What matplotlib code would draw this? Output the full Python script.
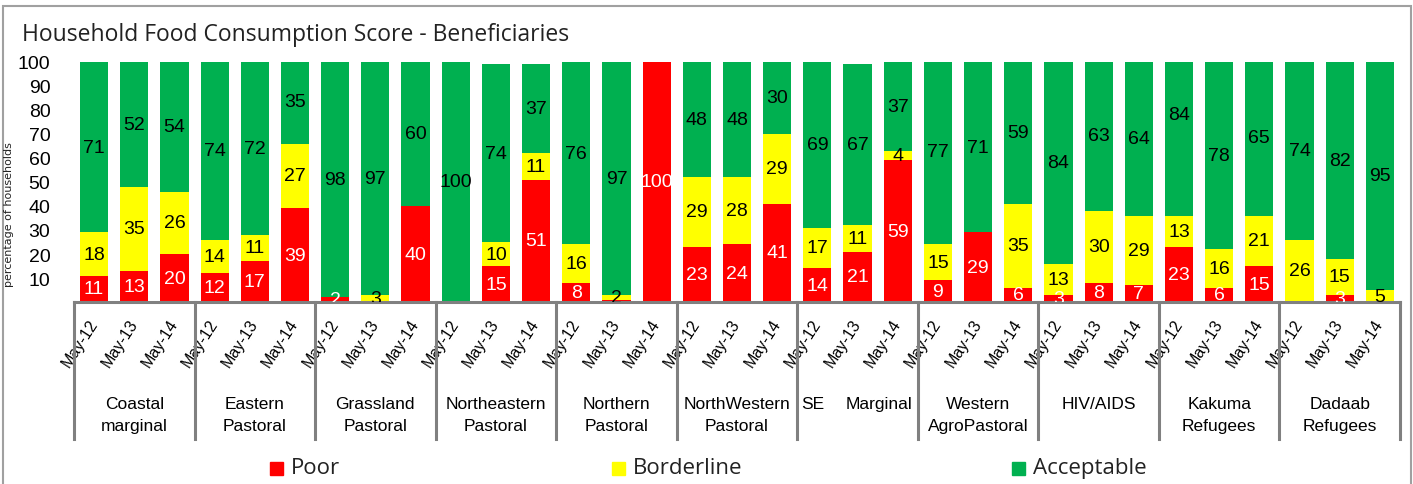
import matplotlib.pyplot as plt
from matplotlib.patches import Rectangle
import numpy as np

title = 'Household Food Consumption Score - Beneficiaries'
groups = ['Coastal\nmarginal', 'Eastern\nPastoral', 'Grassland\nPastoral', 'Northeastern\nPastoral',
          'Northern\nPastoral', 'NorthWestern\nPastoral', 'SE|Marginal', 'Western\nAgroPastoral',
          'HIV/AIDS', 'Kakuma\nRefugees', 'Dadaab\nRefugees']
years = ['May-12', 'May-13', 'May-14']

poor = [11, 13, 20, 12, 17, 39, 2, 0, 40, 0, 15, 51, 8, 1, 100, 23, 24, 41,
        14, 21, 59, 9, 29, 6, 3, 8, 7, 23, 6, 15, 0, 3, 0]
borderline = [18, 35, 26, 14, 11, 27, 0, 3, 0, 0, 10, 11, 16, 2, 0, 29, 28, 29,
              17, 11, 4, 15, 0, 35, 13, 30, 29, 13, 16, 21, 26, 15, 5]
acceptable = [71, 52, 54, 74, 72, 35, 98, 97, 60, 100, 74, 37, 76, 97, 0, 48, 48, 30,
              69, 67, 37, 77, 71, 59, 84, 63, 64, 84, 78, 65, 74, 82, 95]

series = [('Poor', poor, '#ff0000', 'white'),
          ('Borderline', borderline, '#ffff00', 'black'),
          ('Acceptable', acceptable, '#00b050', 'black')]

W, H = 1413, 485
fig = plt.figure(figsize=(W / 100, H / 100), dpi=100)
ax = fig.add_axes([74 / W, (H - 303) / H, (1400 - 74) / W, 240 / H])

x = np.arange(len(poor))
bottom = np.zeros(len(poor))
for name, vals, col, tcol in series:
    vals = np.array(vals, dtype=float)
    ax.bar(x, vals, 0.7, bottom=bottom, color=col, label=name)
    for xi, b, v in zip(x, bottom, vals):
        if v >= 2:
            ax.text(xi, b + v / 2, '%d' % v, ha='center', va='center', color=tcol,
                    fontsize=14, family='Liberation Sans', clip_on=True)
    bottom += vals

ax.set_xlim(-0.5, len(poor) - 0.5)
ax.set_ylim(0, 100)
ax.set_yticks(range(10, 101, 10))
ax.tick_params(axis='y', length=0, labelsize=14, pad=17)
for t in ax.get_yticklabels():
    t.set_family('Liberation Sans')
for s in ['top', 'right', 'left']:
    ax.spines[s].set_visible(False)
ax.spines['bottom'].set_color('#808080')
ax.spines['bottom'].set_linewidth(2.2)

# date tick labels
ax.set_xticks(x)
ax.set_xticklabels(years * len(groups), rotation=57, ha='right', va='center',
                   rotation_mode='anchor', family='Liberation Sans', fontsize=11.5)
ax.tick_params(axis='x', length=0, pad=13)

# group separators and names
tr = ax.get_xaxis_transform()
for i in range(len(groups) + 1):
    ax.plot([i * 3 - 0.5] * 2, [0, -0.57], color='#808080', lw=2.2, transform=tr, clip_on=False)
for i, g in enumerate(groups):
    if '|' in g:
        left, right = g.split('|')
        ax.text(i * 3 - 0.4, -0.39, left, ha='left', va='top', transform=tr, fontsize=12.5,
                family='Liberation Sans')
        ax.text(i * 3 + 2.37, -0.39, right, ha='right', va='top', transform=tr, fontsize=12.5,
                family='Liberation Sans')
        continue
    ax.text(i * 3 + 1, -0.39, g, ha='center', va='top', transform=tr, fontsize=12.5,
            family='Liberation Sans', linespacing=1.65)

# y label (squashed, like the original)
fig.text(9 / W, 1 - 215 / H, 'percentage of households', rotation=90, ha='center', va='center',
         fontsize=8, color='#222222')

fig.text(22 / W, 1 - 35 / H, title, ha='left', va='center', fontsize=16.5, family='Open Sans',
         color='#222222')

# legend
for (name, vals, col, tcol), mx in zip(series, [270, 612, 1012]):
    fig.patches.append(Rectangle((mx / W, 1 - 476 / H), 13 / W, 13 / H, transform=fig.transFigure,
                                 color=col, figure=fig))
    fig.text((mx + 21) / W, 1 - 469 / H, name, ha='left', va='center', fontsize=16,
             family='Open Sans', color='#222222')

# chart frame
fig.patches.append(Rectangle((3 / W, -0.05), 1408 / W, 1 - 7 / H + 0.05, transform=fig.transFigure,
                             fill=False, edgecolor='#a0a0a0', lw=1.5, figure=fig))

fig.savefig('out.png', dpi=100)
